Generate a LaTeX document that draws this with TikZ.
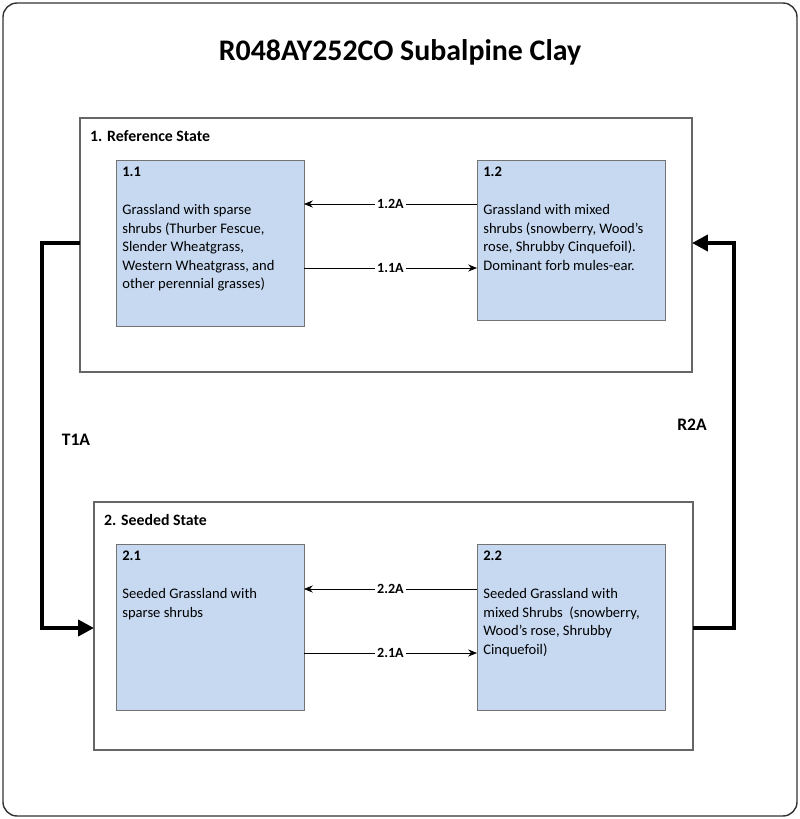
\documentclass[tikz,border=0pt]{standalone}
\usepackage{fontspec}
\setmainfont{Carlito}
\usetikzlibrary{positioning,arrows.meta}
\definecolor{phasefill}{RGB}{198,217,241}
\begin{document}
\begin{tikzpicture}[
  x=0.02cm, y=-0.02cm,
  state box/.style={draw=black!60, fill=white, line width=0.6pt},
  phase box/.style={
    rectangle,
    fill=phasefill,
    draw=black!55,
    line width=0.5pt,
    anchor=north west,
    minimum width=3.76cm, minimum height=3.32cm,
    outer sep=0pt
  },
  phase text/.style={
    anchor=north west,
    text width=3.4cm,
    align=flush left,
    inner sep=0pt,
    font=\fontsize{8.3}{10.6}\selectfont
  },
  pathway/.style={-{Stealth[length=5pt,width=4pt]}, line width=0.4pt},
  transition/.style={-{Triangle[length=9pt,width=9pt]}, line width=2.6pt},
  plabel/.style={fill=white, inner sep=1pt, font=\bfseries\fontsize{8}{9}\selectfont},
  tlabel/.style={font=\bfseries\fontsize{10}{12}\selectfont}
  ]
\useasboundingbox (0,0) rectangle (800,819);
% Frame and title
\draw[black!80, line width=0.8pt, rounded corners=8pt] (3,3) rectangle (797,816);
\node[font=\bfseries\fontsize{17}{20}\selectfont] (title) at (400,52) {R048AY252CO Subalpine Clay};
% Reference State
\draw[state box] (80,118) rectangle (692,372);
\node[anchor=west, font=\bfseries\fontsize{9}{11}\selectfont] (state one) at (84,136) {1. Reference State};
\node[phase box] (p11) at (116,160) {};
\node[phase text] (p11 text) at (122,167) {\textbf{1.1}\\[1.3em] Grassland with sparse shrubs (Thurber Fescue, Slender Wheatgrass, Western Wheatgrass, and other perennial grasses)};
\node[phase box, minimum height=3.2cm] (p12) at (477,160) {};
\node[phase text, text width=3.2cm] (p12 text) at (483,167) {\textbf{1.2}\\[1.3em] Grassland with mixed shrubs (snowberry, Wood’s rose, Shrubby Cinquefoil). Dominant forb mules-ear.};
\draw[pathway] (p12.west |- 0,204) -- node[plabel] {1.2A} (p11.east |- 0,204);
\draw[pathway] (p11.east |- 0,268) -- node[plabel] {1.1A} (p12.west |- 0,268);
% Seeded State
\draw[state box] (94,502) rectangle (693,750);
\node[anchor=west, font=\bfseries\fontsize{9}{11}\selectfont] (state two) at (98,520) {2. Seeded State};
\node[phase box] (p21) at (116,544) {};
\node[phase text] (p21 text) at (122,551) {\textbf{2.1}\\[1.3em] Seeded Grassland with sparse shrubs};
\node[phase box] (p22) at (477,544) {};
\node[phase text] (p22 text) at (483,551) {\textbf{2.2}\\[1.3em] Seeded Grassland with mixed Shrubs\ \ (snowberry, Wood’s rose, Shrubby Cinquefoil)};
\draw[pathway] (p22.west |- 0,589) -- node[plabel] {2.2A} (p21.east |- 0,589);
\draw[pathway] (p21.east |- 0,653) -- node[plabel] {2.1A} (p22.west |- 0,653);
% Transitions
\coordinate (t1a out) at (80,243);
\coordinate (t1a in) at (94,628);
\coordinate (r2a out) at (693,628);
\coordinate (r2a in) at (692,243);
\draw[transition] (t1a out) -- (42,243) -- (42,628) -- (t1a in);
\draw[transition] (r2a out) -- (734,628) -- (734,243) -- (r2a in);
\node[tlabel] (t1a) at (76,440) {T1A};
\node[tlabel] (r2a) at (692,425) {R2A};
\end{tikzpicture}
\end{document}
